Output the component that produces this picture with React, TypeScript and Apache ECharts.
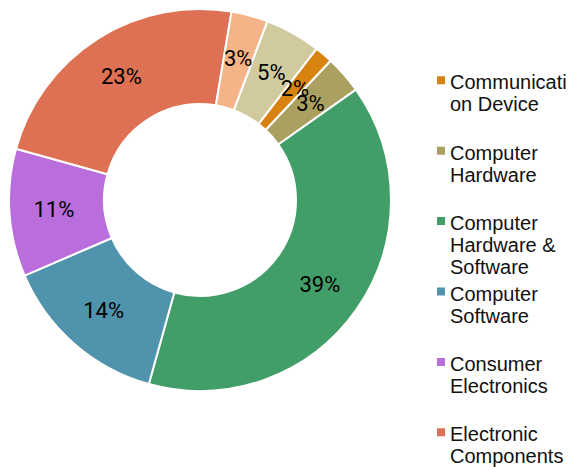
import React, { useEffect, useRef } from 'react';
import * as echarts from 'echarts';

const categories = [
  'Communication Device',
  'Computer Hardware',
  'Computer Hardware & Software',
  'Computer Software',
  'Consumer Electronics',
  'Electronic Components',
  'Semiconductors',
  'Telecommunications',
];
const values = [1.55, 3.2, 39.1, 14.2, 10.8, 23.3, 3.1, 4.7];
const colors = ['#D8830F', '#AAA05F', '#429E69', '#4F93AC', '#B96EDB', '#DE7153', '#F4B487', '#D1CA9E'];
const legendNames = categories.slice(0, 6);
const legendLineCounts = [2, 2, 3, 2, 2, 2];

const FONT = 'Liberation Sans';
const LABEL_FONT = 'Roboto';

export default function App() {
  const ref = useRef<HTMLDivElement>(null);
  useEffect(() => {
    document.body.style.margin = '0';
    if (!ref.current) return;
    const chart = echarts.init(ref.current, undefined, { renderer: 'svg' });
    const lineH = 22;
    const legends = legendNames.map((name, i) => {
      const h = legendLineCounts[i] * lineH;
      return {
        show: true,
        orient: 'vertical',
        left: 437,
        top: 71.3 + 70.4 * i,
        padding: 0,
        selectedMode: false,
        data: [name],
        itemWidth: 8,
        itemHeight: h,
        icon: `path://M0,0h0.01M0,5h8v8h-8zM0,${h}h0.01`,
        itemStyle: { borderWidth: 0 },
        textStyle: {
          fontFamily: FONT,
          fontSize: 20,
          color: '#111111',
          lineHeight: lineH,
          width: 118,
          overflow: 'break',
        },
      };
    });
    chart.setOption({
      animation: false,
      color: colors,
      legend: legends,
      series: [
        {
          type: 'pie',
          center: [200, 200],
          radius: [96, 191],
          startAngle: 52.4,
          clockwise: true,
          avoidLabelOverlap: false,
          itemStyle: { borderColor: '#ffffff', borderWidth: 2 },
          label: {
            show: true,
            position: 'inside',
            formatter: (p: any) => Math.round(p.percent) + '%',
            color: '#000000',
            fontFamily: LABEL_FONT,
            fontSize: 22,
            textBorderWidth: 0,
          },
          labelLayout: { hideOverlap: false },
          labelLine: { show: false },
          emphasis: { disabled: true },
          data: categories.map((name, i) => ({ name, value: values[i] })),
        },
      ],
    });
    return () => chart.dispose();
  }, []);
  return <div ref={ref} style={{ width: 570, height: 467 }} />;
}
